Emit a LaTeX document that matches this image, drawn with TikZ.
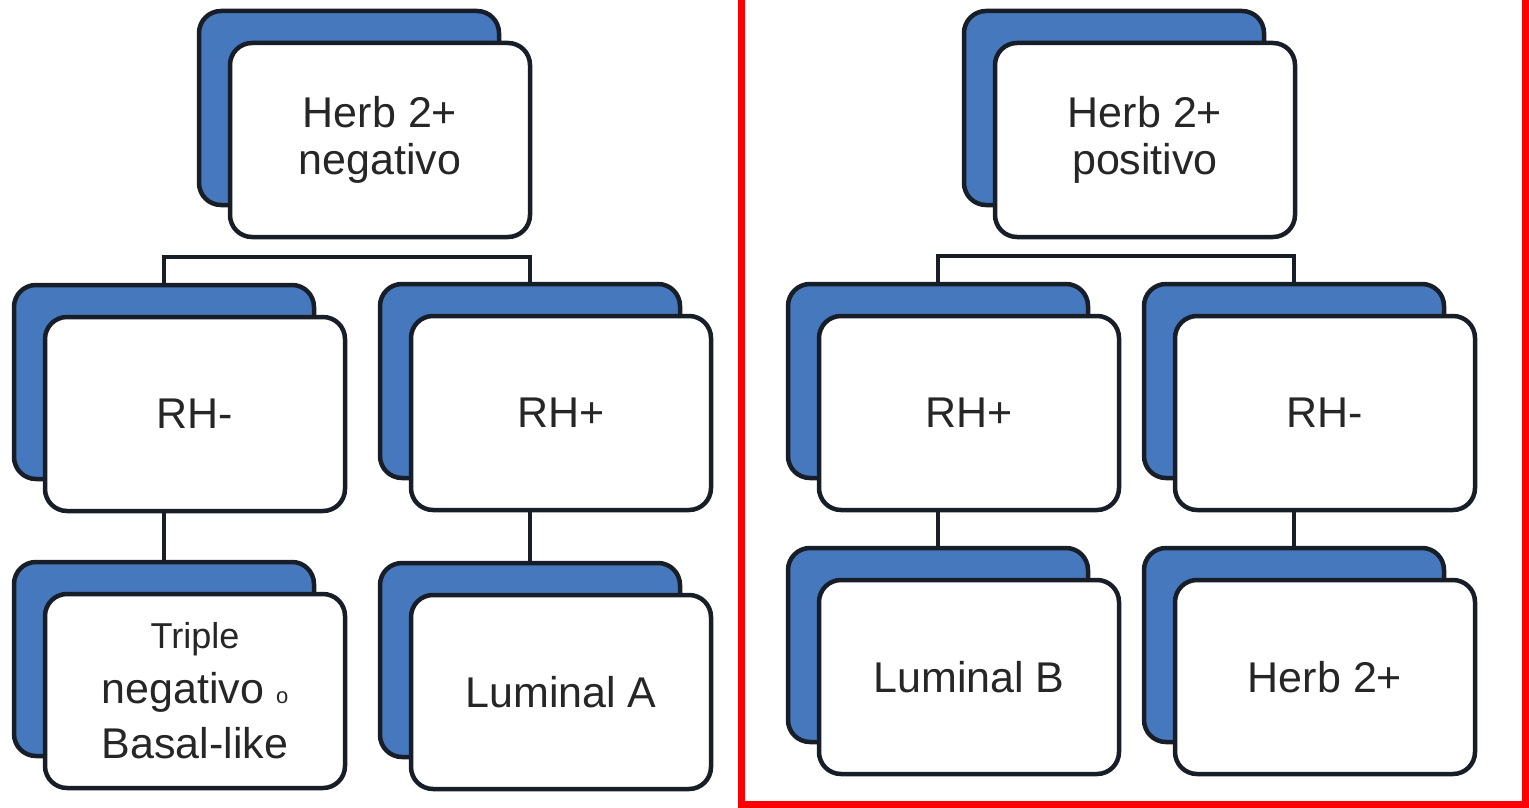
\documentclass[tikz,border=0pt]{standalone}
\usepackage{fontspec}
\setmainfont{Liberation Sans}
\definecolor{cardblue}{RGB}{70,120,190}
\definecolor{cardline}{RGB}{24,30,40}
\definecolor{framered}{RGB}{255,0,0}

% one card = blue sheet behind a white sheet
\newcommand{\card}[4]{%
  \node[backbox] (#1-b) at (#2-31,#3-32) {};
  \node[frontbox] (#1) at (#2,#3) {#4};
}

\begin{document}
\begin{tikzpicture}[x=1pt,y=-1pt,
    backbox/.style={rectangle, rounded corners=22pt, draw=cardline, line width=4.5pt,
      fill=cardblue, minimum width=300pt, minimum height=194pt, inner sep=0pt},
    frontbox/.style={backbox, fill=white, align=center, text=black!85,
      font=\fontsize{43}{47}\selectfont},
    link/.style={draw=cardline, line width=4.5pt}]
  \useasboundingbox (0,0) rectangle (1529,808);
  \clip (0,0) rectangle (1529,808);

  % Herb 2+ negativo
  \card{lroot}{380}{140}{Herb 2+\\negativo}
  \card{lneg}{195}{414}{RH-}
  \card{lpos}{561}{413}{RH+}
  \card{ltri}{195}{691}{{\fontsize{36}{47}\selectfont Triple}\\[8pt]negativo {\fontsize{22}{22}\selectfont o}\\[8pt]Basal-like}
  \card{llumA}{561}{692}{Luminal A}
  \coordinate (lbar) at (346,257);
  \draw[link] (lneg-b.north) |- (lbar) -| (lpos-b.north);
  \draw[link] (lneg-b.center |- lneg.south) -- (ltri-b.north);
  \draw[link] (lpos-b.center |- lpos.south) -- (llumA-b.north);

  % Herb 2+ positivo
  \card{rroot}{1145}{140}{Herb 2+\\positivo}
  \card{rpos}{969}{413}{RH+}
  \card{rneg}{1325}{413}{RH-}
  \card{rlumB}{969}{677}{Luminal B}
  \card{rherb}{1325}{677}{Herb 2+}
  \coordinate (rbar) at (1116,256);
  \draw[link] (rpos-b.north) |- (rbar) -| (rneg-b.north);
  \draw[link] (rpos-b.center |- rpos.south) -- (rlumB-b.north);
  \draw[link] (rneg-b.center |- rneg.south) -- (rherb-b.north);

  \draw[framered, line width=7pt] (741,-20) rectangle (1525.5,804.5);
\end{tikzpicture}
\end{document}
